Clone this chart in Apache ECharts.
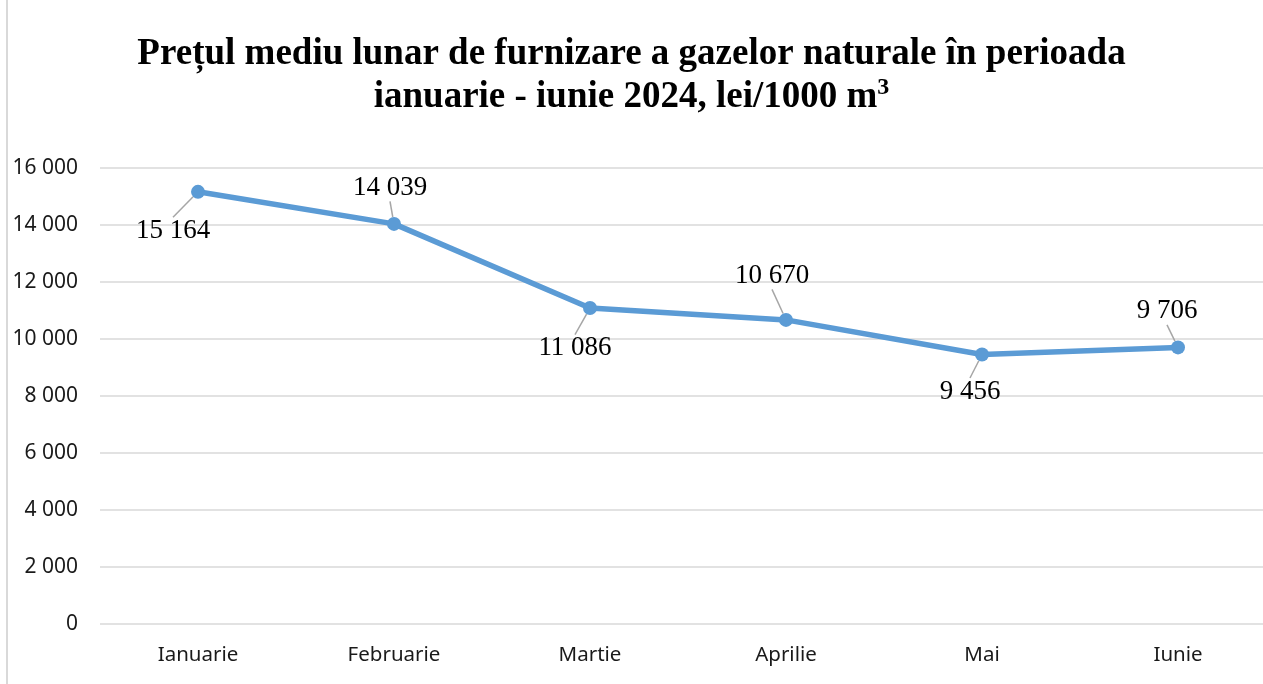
<!DOCTYPE html>
<html>
<head>
<meta charset="utf-8">
<script src="https://cdn.jsdelivr.net/npm/echarts@6/dist/echarts.min.js"></script>
<style>
  html, body { margin: 0; padding: 0; background: #fff; }
  #chart { width: 1263px; height: 684px; }
</style>
</head>
<body>
<div id="chart"></div>
<script>
const months = ['Ianuarie', 'Februarie', 'Martie', 'Aprilie', 'Mai', 'Iunie'];
const prices = [15164, 14039, 11086, 10670, 9456, 9706];
const yTicks = { min: 0, max: 16000, step: 2000 };

// where each value label sits, relative to its point (px)
const labelShift = [[-25, 39], [-4, -36], [-15, 40], [-14, -44], [-12, 37], [-11, -36]];

function fmt(v) {
  return String(v).replace(/\B(?=(\d{3})+(?!\d))/g, ' ');
}

const myChart = echarts.init(document.getElementById('chart'));
const option = {
  animation: false,
  title: {
    text: 'Prețul mediu lunar de furnizare a gazelor naturale în perioada\nianuarie - iunie 2024, lei/1000 m{sup|3}',
    left: 'center',
    top: 28,
    textStyle: {
      fontFamily: 'Liberation Serif',
      fontWeight: 'bold',
      fontSize: 37,
      lineHeight: 43,
      color: '#000',
      rich: {
        sup: { fontFamily: 'Liberation Serif', fontWeight: 'bold', fontSize: 24, verticalAlign: 'top', padding: [0, 0, 16, 0], color: '#000' }
      }
    }
  },
  graphic: [{
    type: 'line',
    shape: { x1: 7, y1: 0, x2: 7, y2: 684 },
    style: { stroke: '#d9d9d9', lineWidth: 2 }
  }],
  grid: { left: 100, top: 168, right: -13, bottom: 60, outerBoundsMode: 'none' },
  xAxis: {
    type: 'category',
    data: months,
    boundaryGap: true,
    axisLine: { show: false },
    axisTick: { show: false },
    axisLabel: { margin: 21, fontFamily: 'Noto Sans', fontSize: 20.5, color: '#1a1a1a' }
  },
  yAxis: {
    type: 'value',
    min: yTicks.min,
    max: yTicks.max,
    interval: yTicks.step,
    axisLine: { show: false },
    axisTick: { show: false },
    splitLine: { lineStyle: { color: '#d9d9d9', width: 1.5 } },
    axisLabel: { margin: 22, fontFamily: 'Noto Sans', fontSize: 21, color: '#1a1a1a', formatter: fmt }
  },
  series: [{
    type: 'line',
    data: prices,
    symbol: 'circle',
    symbolSize: 14,
    lineStyle: { color: '#5b9bd5', width: 5.5 },
    itemStyle: { color: '#5b9bd5' },
    label: {
      show: true,
      position: 'top',
      fontFamily: 'Liberation Serif',
      fontSize: 27,
      color: '#000',
      formatter: p => fmt(p.value)
    },
    labelLine: { show: true, lineStyle: { color: '#a6a6a6', width: 1.5 } },
    labelLayout: function (params) {
      const r = params.rect;
      const s = labelShift[params.dataIndex];
      return {
        x: r.x + r.width / 2 + s[0],
        y: r.y + r.height / 2 + s[1],
        align: 'center',
        verticalAlign: 'middle'
      };
    }
  }]
};
myChart.setOption(option);
</script>
</body>
</html>
